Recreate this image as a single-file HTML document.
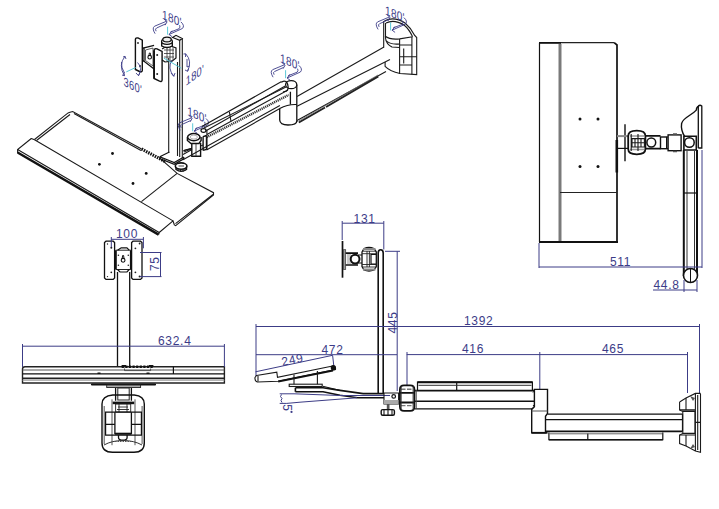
<!DOCTYPE html>
<html><head><meta charset="utf-8">
<style>
html,body{margin:0;padding:0;background:#fff;width:719px;height:509px;overflow:hidden}
svg{display:block}
text{font-family:"Liberation Sans",sans-serif}
.k{stroke:#1a1a1a;fill:none;stroke-width:1.1}
.kt{stroke:#1a1a1a;fill:none;stroke-width:2}
.d{stroke:#3c3c86;fill:none;stroke-width:1}
.dt{fill:#3c3c88;font-size:12px;letter-spacing:0.7px}
.c{stroke:#5ac8d8;stroke-width:1;fill:none}
.dt2{fill:#3c3c88;font-size:12.5px;letter-spacing:0.3px}
</style></head><body>
<svg width="719" height="509" viewBox="0 0 719 509">
<!-- ===== SIDE VIEW TOP RIGHT ===== -->
<g id="sideTR">
  <path d="M539.5,242 V43" fill="none" stroke="#111" stroke-width="1.2"/>
  <path d="M614.2,42.7 L617,45 V242" fill="none" stroke="#111" stroke-width="1.7"/>
  <path d="M560,42.7 H614.2" fill="none" stroke="#222" stroke-width="1.2"/>
  <line x1="539" y1="42.9" x2="561" y2="42.9" stroke="#111" stroke-width="1.8"/>
  <line x1="560" y1="44" x2="560" y2="242" stroke="#7a7a7a" stroke-width="3"/>
  <line x1="560" y1="192.5" x2="617" y2="192.5" stroke="#222" stroke-width="1.1"/>
  <line x1="539" y1="242" x2="618" y2="242" stroke="#111" stroke-width="2"/>
  <line x1="616.8" y1="140" x2="616.8" y2="172.5" stroke="#111" stroke-width="2.6"/>
  <circle cx="580" cy="119" r="1.5" fill="#111"/><circle cx="598" cy="119" r="1.5" fill="#111"/>
  <circle cx="580" cy="166.5" r="1.5" fill="#111"/><circle cx="598" cy="166.5" r="1.5" fill="#111"/>
  <!-- bracket -->
  <line x1="625" y1="124.3" x2="625" y2="161.2" stroke="#111" stroke-width="1.4"/>
  <line x1="617" y1="136.1" x2="628" y2="136.1" stroke="#888" stroke-width="2"/>
  <line x1="617" y1="148.4" x2="628" y2="148.4" stroke="#111" stroke-width="1.2"/>
  <path d="M628.2,136 Q628.2,130.7 636.8,130.7 Q645.4,130.7 645.4,136 V149 Q645.4,154.3 636.8,154.3 Q628.2,154.3 628.2,149 Z" fill="none" stroke="#111" stroke-width="1.8"/>
  <path d="M630,136.1 H644 M630,149.4 H644" stroke="#999" stroke-width="1.5"/>
  <path class="k" d="M631.2,134 V151 M638,134 V151 M632,138.6 H644.4 V147 H632 Z M635,138.6 V147 M641,138.6 V147 M632,142.8 H644.4" stroke-width="0.9"/>
  <path d="M645.4,135.8 H660.5 M645.4,148.6 H660.5" stroke="#111" stroke-width="1.8"/>
  <circle cx="651.3" cy="142.5" r="4.4" fill="none" stroke="#111" stroke-width="1.5"/>
  <rect x="660.5" y="137" width="6.2" height="11.7" fill="none" stroke="#111" stroke-width="1.4"/>
  <path d="M666.7,137 H668.1 M666.7,148.7 H668.1" stroke="#111" stroke-width="1.2"/>
  <rect x="668.1" y="134.9" width="13" height="15.8" fill="none" stroke="#111" stroke-width="1.4"/>
  <path d="M673,134 H677 M673,151.5 H677" stroke="#555" stroke-width="1.4"/>
  <path d="M683.9,150 V136.3 H696.3 V150 Z" fill="none" stroke="#111" stroke-width="1.6"/>
  <circle cx="689.4" cy="142.5" r="4.8" fill="none" stroke="#111" stroke-width="1.5"/>
  <path d="M699,106 Q696.5,107 696.3,110.1 C691,116 683,117.5 681.6,123.5 C680.8,129 682.5,133 684.6,136.3" fill="none" stroke="#111" stroke-width="1.4"/>
  <path d="M698.3,106 V148 M698.3,148 H701.8 V106 Q700,104.5 698.3,106" fill="none" stroke="#111" stroke-width="1.3"/>
  <!-- pole -->
  <path d="M683.8,150 V276 M697,150 V276" stroke="#111" stroke-width="2"/>
  <path d="M687,151 V270 M694.5,151 V270" stroke="#333" stroke-width="1"/>
  <path d="M684,193 H697" stroke="#111" stroke-width="1.2"/>
  <circle cx="690.5" cy="275.5" r="7" fill="#fff" stroke="#111" stroke-width="1.6"/>
  <line x1="690.5" y1="269" x2="690.5" y2="282" stroke="#111" stroke-width="1"/>
  <!-- dims -->
  <path class="d" d="M539,243 V268 M539,267 H702 M702,150 V268"/>
  <text class="dt" x="610" y="266">511</text>
  <path class="d" d="M653,290 H697 M684,280 V292 M697,280 V292"/>
  <text class="dt" x="653.5" y="288.8" font-size="10.5" letter-spacing="1.1">44.8</text>
</g>
<!-- ===== FRONT VIEW BOTTOM LEFT ===== -->
<g id="front">
  <path d="M106,241.2 H113.2 L114.6,242.6 V278 L113.2,279.4 H106 L104.5,278 V242.6 Z" fill="none" stroke="#111" stroke-width="1.3"/>
  <path d="M133,241.2 H140.5 L142,242.6 V278 L140.5,279.4 H133 L131.6,278 V242.6 Z" fill="none" stroke="#111" stroke-width="1.3"/>
  <g fill="#222"><circle cx="111.3" cy="247.8" r="1"/><circle cx="111.3" cy="272.3" r="0.9"/><circle cx="107.5" cy="244" r="0.7"/><circle cx="107.5" cy="276.6" r="0.7"/>
  <circle cx="135.4" cy="248.3" r="0.9"/><circle cx="135.4" cy="272.3" r="0.9"/><circle cx="139.6" cy="243.5" r="0.9"/><circle cx="139.6" cy="276.6" r="1"/></g>
  <path d="M115.8,250.2 V269.5 M130.9,250.2 V269.5" stroke="#111" stroke-width="2"/>
  <path d="M115.8,250.2 H130.9 M115.8,269.5 H130.9" stroke="#222" stroke-width="1"/>
  <path d="M117.5,250.2 L121.2,247.8 H126.9 L129.2,250.2" fill="none" stroke="#111" stroke-width="1.2"/>
  <path d="M117.5,269.5 L120,272 H127 L129.2,269.5" fill="none" stroke="#111" stroke-width="1.2"/>
  <g fill="#222"><circle cx="118.4" cy="255.3" r="0.8"/><circle cx="128.3" cy="255.3" r="0.8"/><circle cx="118.4" cy="265.2" r="0.8"/><circle cx="128.3" cy="265.2" r="0.8"/></g>
  <circle cx="123.1" cy="260.3" r="1.9" fill="none" stroke="#111" stroke-width="1.1"/>
  <path d="M122.2,258.5 L122.6,255.5 H123.6 L124,258.5" fill="none" stroke="#111" stroke-width="1"/>
  <path d="M117.5,272 V366 M129.7,272 V366" stroke="#111" stroke-width="1.3"/>
  <path class="d" d="M111.3,239.3 H143.4 M111.3,237 V247 M143.4,237 V248.3 M140,252.5 H161.5 M140,276.6 H161.5 M160.5,252.5 V276.6"/>
  <text class="dt" x="116" y="237.7" font-size="10">100</text>
  <text class="dt" font-size="11" transform="translate(159,271) rotate(-90)">75</text>
  <!-- tray -->
  <path d="M22.5,383 V369 Q22.5,366.7 25,366.7 H224.4 V383 Z" fill="none" stroke="#222" stroke-width="1.4"/>
  <path d="M22.5,370 H224.4" stroke="#555" stroke-width="1.1"/>
  <path d="M22.5,373.9 H224.4 M173.4,366.7 V373.9" stroke="#111" stroke-width="1.2"/>
  <path d="M97.5,373.2 H100.5 M146.5,373.2 H149.5" stroke="#111" stroke-width="1.6"/>
  <line x1="22.5" y1="378.4" x2="224.4" y2="378.4" stroke="#222" stroke-width="1.9"/>
  <line x1="22.5" y1="380.3" x2="224.4" y2="380.3" stroke="#999" stroke-width="0.9"/>
  <path d="M121.7,366.8 H153.4" stroke="#111" stroke-width="2.6" stroke-dasharray="2.2 1.4"/>
  <path d="M121.7,365.6 H126 M149,365.6 H153.4" stroke="#111" stroke-width="1.4"/>
  <path d="M124.5,368.5 V370.6 H150.6 V368.5" fill="none" stroke="#444" stroke-width="0.9"/>
  <path d="M92,384.5 H155" stroke="#111" stroke-width="2.2" stroke-linecap="round"/>
  <rect x="106.7" y="385" width="33.9" height="2.5" fill="#aaa" stroke="#222" stroke-width="0.9"/>
  <path class="d" d="M22.5,344 V367 M22.5,346.2 H224.4 M224.4,344 V367"/>
  <text class="dt" x="158" y="345">632.4</text>
  <!-- clamp -->
  <path d="M115.6,388 V400.8 M131.4,388 V400.8" stroke="#111" stroke-width="1.3"/>
  <rect x="117.8" y="388" width="11.4" height="12" fill="none" stroke="#222" stroke-width="1"/>
  <path d="M102,404 Q102,396 112.8,395 H134.2 Q144.3,396 144.3,404 V443 Q144.3,452.3 134,452.3 H112.5 Q102,452.3 102,443 Z" fill="none" stroke="#111" stroke-width="1.4"/>
  <path d="M104.2,406 V444 M142.1,406 V444 M112,399.3 V445.2 M135,399.3 V445.2" stroke="#444" stroke-width="0.9"/>
  <path d="M112.7,402.9 H134.2" stroke="#111" stroke-width="2.6"/>
  <path d="M115.6,404 H130.7 V412 H115.6 Z M118,407 H128 M117,409.5 H129 M119,404 V412 M127,404 V412" fill="none" stroke="#222" stroke-width="0.9"/>
  <path d="M105.6,412.2 H141.4 V435.1 H105.6 Z M105.6,424.4 H114.9 M131.4,424.4 H141.4" fill="none" stroke="#111" stroke-width="1.2"/>
  <path d="M114.9,412.2 V433.7 H131.4 V412.2" fill="none" stroke="#111" stroke-width="1.3"/>
  <path d="M114.9,433.7 H131.4" stroke="#111" stroke-width="2"/>
  <path d="M118.5,435 V437.5 Q118.5,440.2 122.8,440.2 Q127.1,440.2 127.1,437.5 V435" fill="none" stroke="#111" stroke-width="1.3"/>
  <path d="M104,445 Q112,440.5 123,440.5 Q134,440.5 142,445" fill="none" stroke="#333" stroke-width="1"/>
  <path d="M115,441.5 H131" stroke="#555" stroke-width="1" stroke-dasharray="1.5 1"/>
</g>
<!-- ===== SIDE VIEW BOTTOM ===== -->
<g id="sideB">
  <path class="d" d="M342.2,221 V240 M342.2,223.2 H383.8 M383.8,221 V249.5"/>
  <text class="dt" x="353.6" y="222.6">131</text>
  <line x1="342.5" y1="241" x2="342.5" y2="277.7" stroke="#111" stroke-width="1.7"/>
  <rect x="343.5" y="249.7" width="2.2" height="19.7" fill="#999" stroke="#333" stroke-width="0.7"/>
  <path d="M345.7,253.2 H358 M345.7,265 H358" stroke="#111" stroke-width="1.7"/>
  <path d="M348,254 V264 M350,254 V264" stroke="#777" stroke-width="0.8"/>
  <circle cx="355.1" cy="259.1" r="4.4" fill="#fff" stroke="#111" stroke-width="2"/>
  <path d="M362,252 L364,248.5 Q369,246.5 374,248.5 L376.3,252 V266.5 L374,270 Q369,272 364,270 L362,266.5 Z" fill="none" stroke="#111" stroke-width="1.3"/>
  <path d="M363,249 H375.5 M363,269.5 H375.5" stroke="#888" stroke-width="1.8"/>
  <path d="M362,251.2 H376.3 M362,253.7 H376.3 M362,264.5 H376.3 M362,267 H376.3 M367,251 V267 M369.4,251 V267" stroke="#222" stroke-width="0.9"/>
  <path d="M376,254.5 H371 V264 H376" fill="none" stroke="#111" stroke-width="1.2"/>
  <path d="M358,255 H362 M358,263 H362" stroke="#111" stroke-width="1.2"/>
  <path d="M378.2,393 V253 Q378.2,249.7 380.7,249.7 Q383.2,249.7 383.2,253 V393" fill="none" stroke="#111" stroke-width="1.6"/>
  <path class="d" d="M385,251.3 H400 M397.2,251.3 V391"/>
  <text class="dt" font-size="13" transform="translate(396.5,333.5) rotate(-90)">445</text>
  <!-- long dims -->
  <path class="d" d="M256,324 V376 M256,326.5 H699.5 M699.5,324 V393 M256,354.7 H397 M406.7,354.6 H687.5 M407,352 V386 M539.8,352 V389 M687.5,352 V393"/>
  <text class="dt" x="464" y="325">1392</text>
  <text class="dt" x="321.4" y="353.8">472</text>
  <text class="dt" x="462" y="353.2">416</text>
  <text class="dt" x="602" y="353.2">465</text>
  <!-- tilted tray -->
  <path class="d" d="M255.5,371.8 L332.6,355.3 L334,367.7"/>
  <text class="dt" transform="translate(282.5,366) rotate(-12)">249</text>
  <path class="k" d="M256.5,375.5 L276.8,372.2 L277.5,377.3 L332.6,366 Q336,366 335.5,369.5 L278.2,381.3 L257.5,382 Q254.5,381 255,377.5 Z" stroke-width="1.2"/>
  <path class="k" d="M258,376 V381.5"/>
  <line x1="278.2" y1="381.5" x2="333" y2="370.5" stroke="#111" stroke-width="1.8"/>
  <circle cx="333.3" cy="367.7" r="2.6" fill="#111"/>
  <path class="k" d="M294,374.6 V384.2 M317.4,371 V384.2" stroke-width="1.2"/>
  <rect class="k" x="289.2" y="384.2" width="33" height="2.3" fill="#bbb"/>
  <path d="M295.4,387.8 H323 L340,390.4 L363.1,393.6 H384 M295.4,391.8 H323 L340,395.2 L357.6,397.8 H384" fill="none" stroke="#111" stroke-width="1.6"/>
  <path d="M295.4,387.8 V391.8" stroke="#111" stroke-width="1.6"/>
  <path d="M323,386.3 L340,390.4" stroke="#111" stroke-width="1"/>
  <path class="d" d="M279.7,393.8 H294 L340,395.5 L390,395.5 M279.7,403.4 H286.8 L300,402.2 L357,397.8 M281.5,394.5 L280.5,396.5 L282,398.5 L281,400.5 L282,402.5"/>
  <text class="dt" font-size="11" transform="translate(283.3,404.3) rotate(90)">5</text><circle cx="291.5" cy="411.9" r="1.1" fill="#3c3c88"/>
  <!-- base/knob -->
  <path class="k" d="M384,393 H398.6 V404 H384 Z" stroke-width="1.3"/>
  <rect x="384" y="400" width="14.6" height="4" fill="#aaa"/>
  <circle cx="393.7" cy="396.4" r="1.8" fill="none" stroke="#111" stroke-width="1.2"/>
  <rect x="386.8" y="404" width="2.7" height="5.6" fill="#555"/>
  <rect x="381.2" y="409.6" width="13.2" height="5.6" rx="1.5" fill="none" stroke="#111" stroke-width="1.4"/>
  <path class="k" d="M384,410 V415 M388,410 V415 M392,410 V415" stroke-width="0.7"/>
  <!-- joint -->
  <path d="M399.9,389.5 Q399.9,385.3 404,385.3 H410.3 Q414.4,385.3 414.4,389.5 V406.7 Q414.4,410.9 410.3,410.9 H404 Q399.9,410.9 399.9,406.7 Z" fill="none" stroke="#111" stroke-width="1.8"/>
  <path d="M399.9,392.8 H414.4 M399.9,402.5 H414.4" stroke="#111" stroke-width="1.8"/>
  <path d="M401,389.2 H413.3 M401,405.6 H413.3" stroke="#777" stroke-width="1.4" stroke-dasharray="4.5 1.5"/>
  <path d="M401.2,386 V410 M413.1,386 V410" stroke="#333" stroke-width="0.9"/>
  <!-- arm 1 -->
  <path d="M417.5,390 V382.2 H532.4 V390 M456.7,382.2 V390" fill="none" stroke="#111" stroke-width="1.2"/>
  <line x1="417.5" y1="382.2" x2="532.4" y2="382.2" stroke="#111" stroke-width="2"/>
  <line x1="418.5" y1="385.3" x2="531.5" y2="385.3" stroke="#333" stroke-width="1"/>
  <path d="M414.9,390.6 H534.6 M414.9,401.2 H534.6" stroke="#111" stroke-width="1.6"/>
  <path d="M414.9,408.8 H534.6" stroke="#111" stroke-width="1.3"/>
  <path d="M416.2,390 V409" stroke="#444" stroke-width="1"/>
  <path d="M534.4,389.4 H547.5 V413.5 L545.5,416.3 V432.8 H531.7 V409.4 L534.4,406.6 Z" fill="#fff" stroke="#111" stroke-width="1.4"/>
  <path d="M531.7,411 H547.5" stroke="#555" stroke-width="1"/>
  <path d="M531.7,432.8 H547.5" stroke="#111" stroke-width="1.8"/>
  <path d="M534.4,391 L533,392.5 M534.4,406.6 L533,405" stroke="#111" stroke-width="1"/>
  <!-- arm 2 -->
  <path d="M547.5,414.2 H682.5 M545.5,419.7 H682.5" stroke="#111" stroke-width="1.3"/>
  <path d="M545.5,431.4 H682.5" stroke="#111" stroke-width="1.8"/>
  <path d="M682.5,414.2 V431.4" stroke="#111" stroke-width="1.2"/>
  <path d="M548.9,432.6 V439.7 H662.8 V432.6 M587.8,433.5 V439.7" fill="none" stroke="#111" stroke-width="1.2"/>
  <path d="M549.5,433.8 H662" stroke="#555" stroke-width="0.9"/>
  <path d="M548.9,439.7 H662.8" stroke="#111" stroke-width="1.5"/>
  <!-- wall mount -->
  <path class="k" d="M700.5,393.4 V452.3 L695.4,451 L686,446 L679.6,443.6 V435 L682.8,433.4 M679.6,402 L686,398 L695.4,393.4 H700.5 M679.6,402 V409.9 L682.8,411.4" stroke-width="1.3"/>
  <path class="k" d="M682.8,411.4 H694.9 V433.4 H682.8 Z M695.4,393.4 V451 M697.7,395 V450 M695.4,422.4 H700.5 M686,398 V409.9 M686,435 V446 M679.6,409.9 H694.9 M679.6,435 H694.9" stroke-width="1.1"/>
  <path d="M690,396 L695,398 L693,401 Z M690,449 L695,447 L693,444 Z" fill="#555"/>
</g>
<!-- ===== ISO VIEW ===== -->
<g id="iso">
  <!-- tray body -->
  <path class="k" d="M34.5,139.5 L68.1,112.9 L70,112.3 L72.7,111.5 L141.6,149 M161.5,159.7 L177.1,173.4 L213.5,192.7 L213.5,195 L175.7,225.7 L174.4,225" stroke-width="1.2"/>
  <path class="k" d="M36.5,140.5 L70,114.5 M74,113.5 L141,150.5 M213,194.5 L175.5,223.6" stroke-width="0.8"/>
  <!-- palm rest -->
  <path class="k" d="M31.3,138.5 L17.6,149.5 L17.6,153 M17.6,149.5 L159.2,232.5 L173,220.9 L174.4,225 M34.5,139.8 L173,220.9 M31.3,138.5 L34.5,139.8" stroke-width="1.2"/>
  <line x1="17.6" y1="152.5" x2="158.6" y2="234.6" stroke="#111" stroke-width="2.4"/>
  <path class="k" d="M159.2,232.5 L158.6,234.6"/>
  <path class="k" d="M177.1,173.4 L141.4,201.6" stroke-width="1"/>
  <g fill="#111"><circle cx="112.5" cy="153.5" r="1.4"/><circle cx="99.4" cy="164.3" r="1.4"/><circle cx="146.2" cy="173.4" r="1.4"/><circle cx="133" cy="183.5" r="1.4"/></g>
  <!-- slider hatch -->
  <path d="M141.6,149 L166,162" stroke="#111" stroke-width="3.2" stroke-dasharray="1.5 1"/>
  <!-- pole -->
  <path class="k" d="M168.7,58 V153" stroke-width="1"/>
  <path class="k" d="M177.5,62 V156" stroke-width="1.1"/>
  <path class="k" d="M179.7,40.3 V157 M182.3,38.5 V158.5" stroke-width="1.5"/>
  <path d="M172.5,37.5 L176,35.3 L182.3,38.5 L179.7,40.3 Z" fill="#eee" stroke="#111" stroke-width="1.1"/>
  <!-- pole base -->
  <path d="M159.8,156.8 L169.4,152 M159.8,156.8 L174.2,162.5 L183.8,157 M159.8,156.8 V158.6 L174.2,164.3 L183.8,158.8 V157" fill="none" stroke="#111" stroke-width="1.2"/>
  <path d="M176,166 V169.5 Q181,173 186.5,169.5 V166" fill="#fff" stroke="#111" stroke-width="1.4"/>
  <path d="M178,168 V171 M180.5,168.5 V172 M183,168.5 V172 M185,168 V171" stroke="#222" stroke-width="1"/>
  <ellipse cx="181.1" cy="166.1" rx="5.8" ry="3.2" fill="#fff" stroke="#111" stroke-width="1.6"/>
  <path d="M178.5,166 H184" stroke="#444" stroke-width="1"/>
  <path d="M183.9,150.3 L192.1,148.2 M183.9,152 L195,147.6" stroke="#111" stroke-width="1"/>
  <!-- monitor head -->
  <path d="M135.4,39.5 Q135.5,37.5 138,38 L142.3,40.2 V70.5 Q142,72.5 139.5,71.5 L135.4,69.5 Z" fill="#fff" stroke="#111" stroke-width="1.4"/>
  <path d="M142.3,48 L144,47.9 L154.1,45.3 M144,47.9 V61.2 L154.1,69.1 M142.3,61 H144" fill="none" stroke="#111" stroke-width="1.3"/>
  <path d="M145.5,50 L153,48 V66 L145.5,60.5 Z" fill="none" stroke="#333" stroke-width="0.8"/>
  <circle cx="149.7" cy="57.2" r="1.8" fill="none" stroke="#111" stroke-width="1.1"/>
  <path d="M149,55.4 L149.3,53 H150.3 L150.6,55.4" fill="none" stroke="#111" stroke-width="0.9"/>
  <path d="M154.1,50.5 Q154.5,48 157,48.8 L162.1,51.5 V80 Q162,82 159.5,81.2 L154.1,78.5 Z" fill="#fff" stroke="#111" stroke-width="1.4"/>
  <path d="M154.1,50.5 V78.5" stroke="#111" stroke-width="1.8"/>
  <g fill="#222"><circle cx="138" cy="43" r="0.9"/><circle cx="140" cy="66" r="0.9"/><circle cx="157.2" cy="55" r="1"/><circle cx="157.2" cy="74" r="1"/></g>
  <path d="M162.1,49 L166,46.5 H172.3 L176,48 V58 L172,61.2 L165,62 L162.1,60" fill="none" stroke="#111" stroke-width="1.2"/>
  <path d="M164,50 H174 M164,53.5 H174 M164,57 H174 M167,47 V61 M170,47 V61 M173,47 V60" stroke="#333" stroke-width="0.8"/>
  <path d="M161.7,41.7 V46 Q167,49 172.3,46 V41.7" fill="#fff" stroke="#111" stroke-width="1.4"/>
  <ellipse cx="167" cy="41.5" rx="5.4" ry="2.8" fill="#fff" stroke="#111" stroke-width="1.3"/>
  <ellipse cx="167" cy="39.5" rx="4.2" ry="2.4" fill="#eee" stroke="#111" stroke-width="1.2"/>
  <g transform="translate(167.6,26.7)">
    <path d="M0,0 V8" stroke="#5ac8d8" stroke-width="1"/>
    <g stroke="#3c3c88" fill="none" stroke-width="0.9">
      <path d="M-12.5,7 Q-16,1.5 -13,-0.5 L-1,-5.5 M-11.5,4.5 Q-13,2 -11,1.3 L-2,-2.8 M-3.5,-7.5 L-0.5,-5 L-2.5,-1.5"/>
      <path d="M13.3,-4.8 Q17.5,-1 14.8,1.8 L1.5,7.8 M12,-1.5 Q13,0.5 11.5,2 L2.5,5.6 M4.5,4 L1.5,7.8 L4.5,10"/>
    </g>
    <text class="dt2" transform="translate(-5.5,-8.2) skewY(23) scale(0.8,1)">180'</text>
  </g>
  <!-- 360 tilt -->
  <g stroke="#3c3c88" fill="none" stroke-width="0.9">
    <path d="M125,56.3 Q118,65 124.4,75.7 M123,57 L125,56.3 L126,59 M121.5,62 Q121,68 124.5,73 M122,75 L124.4,75.7 L124,72.5"/>
    <path d="M137.5,62.5 Q143,68 138.5,75.7 M136,73 L138.5,75.7 L140,72.5"/>
    <path d="M185.7,53.8 Q192.5,61 187.6,71.3 M183.5,54 L185.7,53.8 L185.5,57 M187,59 V67 L189.5,66 M185,70 L187.6,71.3 L188.5,68.5"/>
    <path d="M172,60 Q167,68 173.8,76.3 M171,73 L173.8,76.3 L175,73"/>
  </g>
  <path stroke="#5ac8d8" stroke-width="1" d="M126.3,71.9 L135.6,67.5 M163.8,58.1 L181.3,68.2"/>
  <text class="dt2" font-size="11" transform="translate(123.6,85.5) skewY(26) scale(0.75,1)">360'</text>
  <text class="dt2" font-size="11.5" transform="translate(185.8,86) skewY(-36) scale(0.74,1)">180'</text>
  <!-- joint at tray -->
  <path d="M191.8,143 V156.3 H200.6 V143" fill="#fff" stroke="#111" stroke-width="1.4"/>
  <path d="M196,144 V156" stroke="#333" stroke-width="0.9"/>
  <path d="M187.4,137 V140.5 L191,143.5 H199 L201.1,140.5 V137" fill="#fff" stroke="#111" stroke-width="1.4"/>
  <ellipse cx="193.8" cy="137.1" rx="6.2" ry="3.6" fill="#fff" stroke="#111" stroke-width="1.5"/>
  <ellipse cx="193.8" cy="137.1" rx="3.6" ry="2" fill="none" stroke="#999" stroke-width="0.8"/>
  <path d="M203.1,136.6 V150.4 M206.5,135.5 V149.3 M203.1,136.6 L206.5,135.5 M203.1,150.4 L206.5,149.3" fill="none" stroke="#111" stroke-width="1.4"/>
  <ellipse cx="203.5" cy="130.5" rx="2.5" ry="1.8" fill="none" stroke="#111" stroke-width="1.2"/>
  <path d="M183,151 L191.8,148.4 M200.6,146 L203.1,145" stroke="#111" stroke-width="1"/>
  <g transform="translate(192.7,123.3)">
    <path d="M0,0 V8" stroke="#5ac8d8" stroke-width="1"/>
    <g stroke="#3c3c88" fill="none" stroke-width="0.9">
      <path d="M-12.5,7 Q-16,1.5 -13,-0.5 L-1,-5.5 M-11.5,4.5 Q-13,2 -11,1.3 L-2,-2.8 M-3.5,-7.5 L-0.5,-5 L-2.5,-1.5"/>
      <path d="M13.3,-4.8 Q17.5,-1 14.8,1.8 L1.5,7.8 M12,-1.5 Q13,0.5 11.5,2 L2.5,5.6 M4.5,4 L1.5,7.8 L4.5,10"/>
    </g>
    <text class="dt2" transform="translate(-5.5,-8.2) skewY(23) scale(0.8,1)">180'</text>
  </g>
  <!-- upper arm -->
  <path class="k" d="M202,126.6 L281.6,81.5 M205.6,131 L285.2,85.9 M183,159.8 L279.9,105.4 M206.5,150 L279.9,108.5 M183,154.5 L192,149.5" stroke-width="1.1"/>
  <path class="k" d="M204,128 L288,86 M206.9,134.5 L288,90" stroke-width="0.8"/>
  <path d="M206.5,137.3 L288.7,94.9" stroke="#333" stroke-width="2.4" stroke-dasharray="1.2 0.8"/>
  <path class="k" d="M229.4,111.8 L231,121.5 M206.9,129.8 V150" stroke-width="1"/>
  <!-- elbow -->
  <path d="M296.8,84.7 V122 M290.4,91.8 V104.5" fill="none" stroke="#111" stroke-width="1.3"/>
  <path d="M279.7,108.5 V120 Q280,125 288,125 Q296.8,125 296.8,121" fill="none" stroke="#111" stroke-width="1.3"/>
  <path d="M279.7,108.5 Q288,104 296.8,104.5" fill="none" stroke="#111" stroke-width="1.1"/>
  <ellipse cx="291.2" cy="84.7" rx="5.6" ry="4" fill="#fff" stroke="#111" stroke-width="1.3"/>
  <path d="M281.5,82.5 Q283,80.5 286,81.5 Q288.5,84 288,89 L286.5,91 L283,92" fill="none" stroke="#111" stroke-width="1.2"/>
  <g transform="translate(285.6,70.2)">
    <path d="M0,0 V8" stroke="#5ac8d8" stroke-width="1"/>
    <g stroke="#3c3c88" fill="none" stroke-width="0.9">
      <path d="M-12.5,7 Q-16,1.5 -13,-0.5 L-1,-5.5 M-11.5,4.5 Q-13,2 -11,1.3 L-2,-2.8 M-3.5,-7.5 L-0.5,-5 L-2.5,-1.5"/>
      <path d="M13.3,-4.8 Q17.5,-1 14.8,1.8 L1.5,7.8 M12,-1.5 Q13,0.5 11.5,2 L2.5,5.6 M4.5,4 L1.5,7.8 L4.5,10"/>
    </g>
    <text class="dt2" transform="translate(-5.5,-8.2) skewY(23) scale(0.8,1)">180'</text>
  </g>
  <!-- lower arm -->
  <path class="k" d="M297,96.5 L384,47 M297,106.3 L390,59.4 M297,120.4 L386,71.5" stroke-width="1.1"/>
  <path d="M298.8,122.5 L325,107.5 M326,107 L378.3,76.5" stroke="#222" stroke-width="2" fill="none"/>
  <path d="M299,120.8 L378,75" stroke="#666" stroke-width="0.8" fill="none"/>
  <!-- wall mount -->
  <path class="k" d="M384.4,21 Q394,16 405,23 Q411,28 414.7,35.4 L416.7,37.5 V74.6 L400,73.5 Q390,71.5 385.1,66.4 V62 M383.7,21 V47.5" stroke-width="1.3"/>
  <path class="k" d="M386,23 Q394,19 404,25 Q409,29 412.6,36.8 M385.5,23 V38 Q386,44 392,47 L399.6,47.5 M385,36 Q390,40 399.6,38.9 L412.6,36.8 M385.5,40 Q390,45 399.6,44" stroke-width="1"/>
  <path class="k" d="M399.6,38.9 V74 M411.9,37 V74.6 M399.6,45 H411.9 M399.6,56.7 H416.7 M399.6,65 H411.9 M403.7,48.5 V63.6" stroke-width="1.1"/>
  <g transform="translate(390.6,22.4)">
    <path d="M0,0 V8" stroke="#5ac8d8" stroke-width="1"/>
    <g stroke="#3c3c88" fill="none" stroke-width="0.9">
      <path d="M-12.5,7 Q-16,1.5 -13,-0.5 L-1,-5.5 M-11.5,4.5 Q-13,2 -11,1.3 L-2,-2.8 M-3.5,-7.5 L-0.5,-5 L-2.5,-1.5"/>
      <path d="M13.3,-4.8 Q17.5,-1 14.8,1.8 L1.5,7.8 M12,-1.5 Q13,0.5 11.5,2 L2.5,5.6 M4.5,4 L1.5,7.8 L4.5,10"/>
    </g>
    <text class="dt2" transform="translate(-5.5,-8.2) skewY(23) scale(0.8,1)">180'</text>
  </g>
</g>
</svg>
</body></html>
